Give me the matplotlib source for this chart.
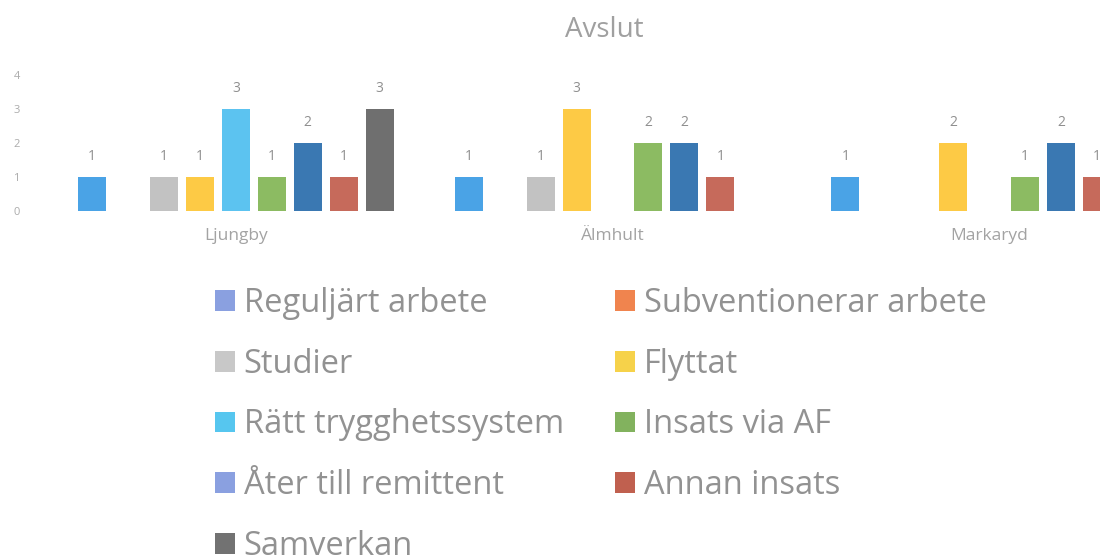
import matplotlib.pyplot as plt
from matplotlib.patches import Patch
import numpy as np

plt.rcParams['font.family'] = ['Open Sans', 'DejaVu Sans']

nan = np.nan

# categories and series (blank cells in the source sheet -> nan)
kommuner = ['Ljungby', 'Älmhult', 'Markaryd']
serier = ['Reguljärt arbete', 'Subventionerar arbete', 'Studier', 'Flyttat',
          'Rätt trygghetssystem', 'Insats via AF', 'Åter till remittent',
          'Annan insats', 'Samverkan']

reguljart  = [1, 1, 1]
subvention = [nan, nan, nan]
studier    = [1, 1, nan]
flyttat    = [1, 3, 2]
ratt       = [3, nan, nan]
insats     = [1, 2, 1]
ater       = [2, 2, 2]
annan      = [1, 1, 1]
samverkan  = [3, nan, nan]

values = [reguljart, subvention, studier, flyttat, ratt, insats, ater, annan, samverkan]

bar_colors = ['#4aa3e6', '#ee7d4a', '#c2c2c2', '#fdca45', '#5cc3f0',
              '#8cbb62', '#3a78b2', '#c66a5b', '#6f6f6f']
legend_colors = ['#8aa0e0', '#f0844e', '#c8c8c8', '#f6d24a', '#56c6ef',
                 '#82b25e', '#8aa0e0', '#c0604f', '#727272']

fig = plt.figure(figsize=(11, 5.58), dpi=100)
# plot area runs past the right edge, like the cropped original
ax = fig.add_axes([47.5 / 1100, 1 - 211 / 558, 1130 / 1100, 136 / 558])

x = np.arange(len(kommuner))
step = 36 / 377
width = 28 / 377
for i, (vals, col) in enumerate(zip(values, bar_colors)):
    pos = x + (i - 4) * step
    ax.bar(pos, vals, width=width, color=col)
    for px, v in zip(pos, vals):
        if not np.isnan(v):
            ax.annotate('%d' % v, (px, v), xytext=(0, 9.5), textcoords='offset points',
                        ha='center', va='bottom', fontsize=10, color='#8f8f8f')

ax.set_xlim(-0.5, 2.5)
ax.set_ylim(0, 4)
ax.set_yticks([0, 1, 2, 3, 4])
ax.set_xticks(x)
ax.set_xticklabels(kommuner)
ax.tick_params(axis='y', length=0, pad=20, labelsize=8, labelcolor='#ababab')
ax.tick_params(axis='x', length=0, pad=12, labelsize=12.5, labelcolor='#a3a3a3')
for s in ax.spines.values():
    s.set_visible(False)

fig.text(604 / 1100, 1 - 30 / 558, 'Avslut', ha='center', va='center',
         fontsize=20, color='#a0a0a0')

# legend is filled row-wise in the original: left column gets the even items
cols = [([0, 2, 4, 6, 8], 215), ([1, 3, 5, 7], 615)]
for idx, xpix in cols:
    handles = [Patch(facecolor=legend_colors[k], edgecolor='none') for k in idx]
    labels = [serier[k] for k in idx]
    leg = fig.legend(handles, labels, loc='upper left',
                     bbox_to_anchor=(xpix / 1100, 1 - 287 / 558), frameon=False,
                     fontsize=23.5, handlelength=0.6, handleheight=0.6,
                     handletextpad=0.28, labelspacing=0.85,
                     borderaxespad=0, borderpad=0)
    for t in leg.get_texts():
        t.set_color('#929292')

fig.savefig('out.png', dpi=100)
